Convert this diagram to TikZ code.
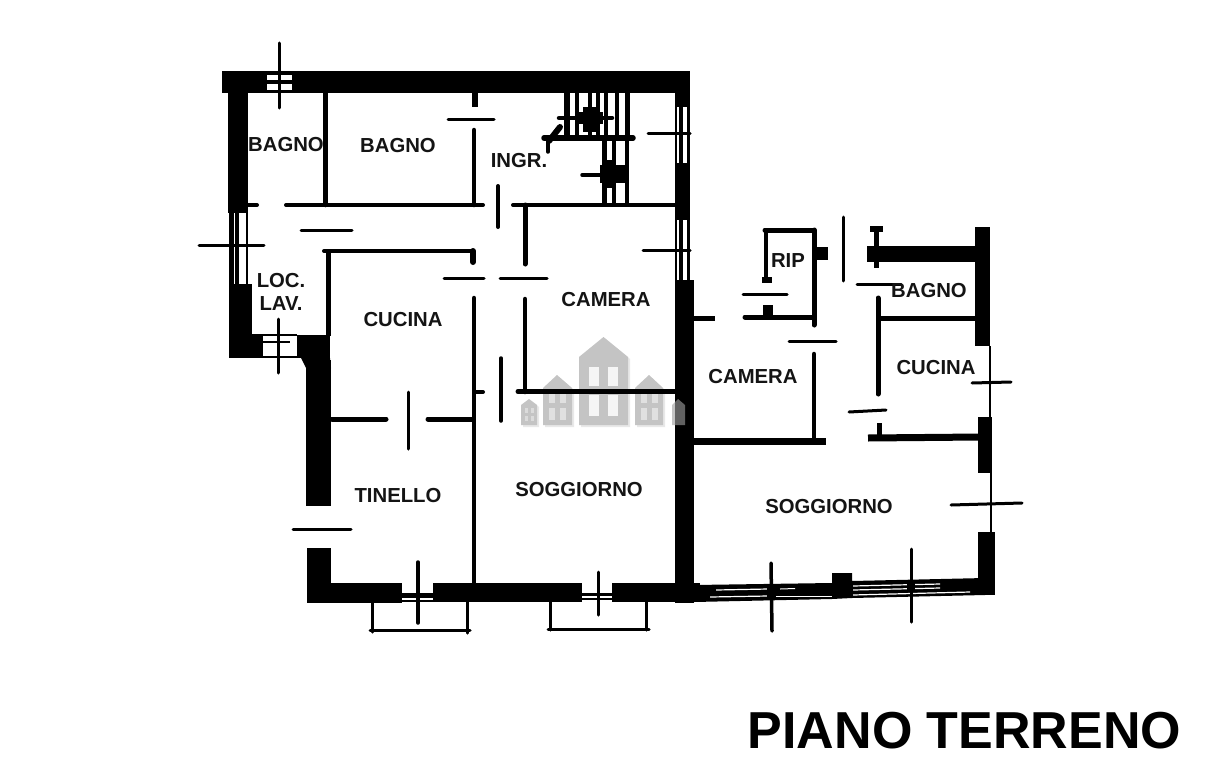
\documentclass[tikz,border=0pt]{standalone}
\usepackage{fontspec}
\setmainfont{Liberation Sans}
\begin{document}
\begin{tikzpicture}[x=1pt,y=-1pt,
  wm/.style={fill=black!23,draw=none},
  wmshadow/.style={fill=black!9,draw=none},
  hole/.style={fill=black!4,draw=none},
  wall/.style={fill=black,draw=none},
  ln/.style={draw=black,line width=#1,line cap=round},
  ln/.default=4,
  flat/.style={draw=black,line width=#1,line cap=butt},
  white line/.style={draw=white,line width=#1},
  lab/.style={font=\fontsize{20.3}{23}\selectfont\bfseries,text=black!92,inner sep=0pt},
  title/.style={font=\fontsize{52}{58}\selectfont\bfseries,text=black,inner sep=0pt}]
\useasboundingbox (0,0) rectangle (1206,768);
\fill[white] (0,0) rectangle (1206,768);

% watermark: houses
\fill[wmshadow] (581,359)--(605.5,339)--(630,359)--(630,427)--(581,427)--cycle;
\fill[wmshadow] (545,390)--(559,377)--(574,390)--(574,427)--(545,427)--cycle;
\fill[wmshadow] (637,390)--(651,377)--(665,390)--(665,427)--(637,427)--cycle;
\fill[wmshadow] (523,407)--(531,401)--(539,407)--(539,427)--(523,427)--cycle;
\fill[wm] (579,357)--(603.5,337)--(628,357)--(628,425)--(579,425)--cycle;
\fill[wm] (543,388)--(557,375)--(572,388)--(572,425)--(543,425)--cycle;
\fill[wm] (635,388)--(649,375)--(663,388)--(663,425)--(635,425)--cycle;
\fill[wm] (521,405)--(529,399)--(537,405)--(537,425)--(521,425)--cycle;
\fill[wm] (672,405)--(678,399)--(685,405)--(685,425)--(672,425)--cycle;
\foreach \wx in {589,608}{
  \fill[hole] (\wx,367) rectangle ++(9.5,19);
  \fill[hole] (\wx,395) rectangle ++(9.5,21);}
\foreach \wx in {549,560,641,652}{
  \fill[black!12] (\wx,393) rectangle ++(6,10);
  \fill[black!12] (\wx,408) rectangle ++(6,12);}
\foreach \wx in {525,531}{
  \fill[black!14] (\wx,408) rectangle ++(3,5);
  \fill[black!14] (\wx,416) rectangle ++(3,5);}

% outer walls, main flat
\fill[wall] (222,71) rectangle (267,93);
\fill[wall] (292,71) rectangle (690,93);
\fill[wall] (267,71) rectangle (292,75);
\fill[wall] (267,80) rectangle (292,84);
\fill[wall] (267,90) rectangle (292,93);
\fill[wall] (228,71) rectangle (248,213);
\fill[wall] (229,284) rectangle (252,358);
\fill[wall] (229,336) rectangle (263,358);
\fill[wall] (297,335) rectangle (330,358);
\fill[wall] (301,358) -- (330,358) -- (331,368) -- (306,368) -- cycle;
\fill[wall] (306,360) rectangle (331,506);
\fill[wall] (307,548) rectangle (331,603);
\fill[wall] (307,583) rectangle (402,603);
\fill[wall] (433,583) rectangle (582,602);
\fill[wall] (612,583) rectangle (700,602);
\fill[wall] (675,92) rectangle (690,107);
\fill[wall] (675,163) rectangle (690,220);
\fill[wall] (675,280) rectangle (694,603);
% side window, west
\foreach \wx/\ww in {231/5,237/4,247/2.5}{
  \draw[flat=\ww] (\wx,213) -- (\wx,285);}
% window, lower left
\draw[flat=2] (252,335) -- (297,335);
\draw[flat=2] (263,342) -- (290,342);
\draw[flat=2] (263,357) -- (297,357);
% window east upper
\foreach \wy/\wh in {107/56,220/60}{
  \draw[flat=4] (681,\wy) -- ++(0,\wh);
  \draw[flat=3] (688,\wy) -- ++(0,\wh);
  \draw[flat=2] (676,\wy) -- ++(0,\wh);}
% bottom windows
\draw[flat=5] (402,595) -- (433,595);
\draw[flat=2] (402,601) -- (433,601);
\draw[flat=3] (582,594) -- (612,594);
\draw[flat=2] (582,599) -- (612,599);

% interior, main flat
\draw[ln=4.5] (325.5,93) -- (325.5,205);
\draw[ln=4] (286,205) -- (483,205);
\draw[ln=4] (248,205) -- (257,205);
\draw[flat=6] (475,93) -- (475,107);
\draw[ln=3] (448,119) -- (494,119);
\draw[ln=4.5] (474,130) -- (474,205);
\draw[ln=4] (498,186) -- (498,227);
\draw[ln=3] (301,230) -- (352,230);
\draw[ln=4] (324,251) -- (473,251);
\draw[flat=5] (328,251) -- (328,336);
\draw[ln=6] (473,251) -- (473,262);
\draw[ln=3] (444,278) -- (484,278);
\draw[ln=3] (500,278) -- (547,278);
\draw[ln=4.5] (474,298) -- (474,583);
\draw[ln=3.5] (501,358) -- (501,421);
\draw[ln=5] (525,205) -- (525,264);
\draw[ln=4] (513,205) -- (675,205);
\draw[ln=4.5] (525,299) -- (525,392);
\draw[ln=5] (518,391.5) -- (675,391.5);
\draw[ln=4] (483,392) -- (475,392);
\draw[ln=3] (643,250) -- (690,250);
\draw[ln=3] (648,133) -- (690,133);
\draw[ln=5] (332,419) -- (386,419);
\draw[ln=5] (428,419) -- (472,419);
\draw[ln=3] (408,392) -- (408,449);
\draw[ln=3] (293,529) -- (351,529);

% stairs
\foreach \sx/\sw in {567/6,577/4,590/4,598/4,606/4,617/4,627/5}{
  \draw[flat=\sw] (\sx,93) -- (\sx,138);}
\draw[ln=5.5] (544,138) -- (633,138);
\draw[ln=6] (549,141) -- (560,127);
\draw[ln=3.5] (548,141) -- (548,152);
\draw[ln=4.5] (559,118) -- (612,118);
\fill[wall] (583,107) rectangle (599,132);
\fill[wall] (576,112) rectangle (603,124);
\foreach \sx/\sw in {604/5,614/4,627/4}{
  \draw[flat=\sw] (\sx,140) -- (\sx,205);}
\fill[wall] (600,165) rectangle (625,183);
\fill[wall] (604,160) rectangle (614,188);
\draw[ln=3.5] (582,175) -- (625,175);

% window marks, main flat
\draw[ln=3] (279,43) -- (279,108);
\draw[ln=3] (199,245) -- (264,245);
\draw[ln=3] (278,319) -- (278,373);
\draw[ln=3.5] (418,562) -- (418,623);
\draw[ln=3] (598,572) -- (598,615);
\draw[ln=3] (372,602) -- (372,632);
\draw[ln=3] (467,602) -- (467,633);
\draw[ln=3] (370,630) -- (470,630);
\draw[ln=3] (550,602) -- (550,630);
\draw[ln=3] (646,602) -- (646,630);
\draw[ln=3] (548,629) -- (649,629);

% second flat
\draw[ln=5] (765,230) -- (814,230);
\draw[ln=3.5] (766,230) -- (766,279);
\fill[wall] (762,277) rectangle (772,283);
\draw[ln=5] (814,230) -- (814,325);
\fill[wall] (812,247) rectangle (828,260);
\draw[ln=3] (743,294) -- (787,294);
\fill[wall] (763,305) rectangle (773,315);
\draw[ln=5] (745,317) -- (814,317);
\draw[flat=5] (692,318) -- (715,318);
\draw[ln=3] (789,341) -- (836,341);
\draw[ln=4.5] (814,354) -- (814,438);
\draw[flat=7] (694,441.5) -- (826,441.5);
\draw[ln=3] (843,217) -- (843,281);
\fill[wall] (867,246) rectangle (977,262);
\fill[wall] (975,227) rectangle (990,346);
\draw[flat=5] (876,228) -- (876,268);
\fill[wall] (870,226) rectangle (883,232);
\draw[ln=3] (857,284) -- (901,284);
\draw[ln=5] (878,298) -- (878,394);
\draw[flat=5] (878,318) -- (977,318);
\draw[ln=3] (849,412) -- (886,410);
\draw[flat=5] (879,423) -- (879,437);
\draw[flat=7] (868,438) -- (980,437);
\fill[wall] (978,417) rectangle (992,473);
\draw[flat=2] (990,346) -- (990,417);
\draw[flat=2.5] (991,473) -- (991,532);
\draw[ln=3] (972,383) -- (1011,382);
\draw[ln=3] (951,505) -- (1022,503);
\fill[wall] (978,532) rectangle (995,595);

% south wall of the second flat with strip window
\fill[wall] (694,585) -- (832,583) -- (832,573) -- (852,573) -- (852,581)
  -- (985,578) -- (985,595) -- (852,598) -- (832,599) -- (694,602) -- cycle;
\draw[white line=1.2] (716,590) -- (768,589);
\draw[white line=1.2] (710,597) -- (768,596);
\draw[white line=1] (780,589) -- (795,588.5);
\draw[white line=1] (775,596) -- (832,596);
\draw[white line=1.2] (853,586) -- (940,584);
\draw[white line=1.2] (853,590) -- (940,588);
\draw[white line=1.2] (853,595) -- (970,592);
\draw[ln=3.5] (771,563) -- (772,631);
\fill[wall] (767,585) rectangle (776,600);
\draw[ln=3] (911,549) -- (911,622);
\fill[wall] (907,581) rectangle (915,590);

% watermark house seen through the wall
\fill[black!62] (675,402) -- (678,399) -- (685,405) -- (685,425) -- (675,425) -- cycle;

% labels
\node[lab] (bagnoa) at (286,145) {BAGNO};
\node[lab] (bagnob) at (398,146) {BAGNO};
\node[lab] (ingr) at (519,161) {INGR.};
\node[lab] (loc) at (281,281) {LOC.};
\node[lab] (lav) at (281,304) {LAV.};
\node[lab] (cucinaa) at (403,320) {CUCINA};
\node[lab] (cameraa) at (606,300) {CAMERA};
\node[lab] (rip) at (788,261) {RIP};
\node[lab] (bagnoc) at (929,291) {BAGNO};
\node[lab] (cucinab) at (936,368) {CUCINA};
\node[lab] (camerab) at (753,377) {CAMERA};
\node[lab] (tinello) at (398,496) {TINELLO};
\node[lab] (soggiornoa) at (579,490) {SOGGIORNO};
\node[lab] (soggiornob) at (829,507) {SOGGIORNO};
\node[title] (piano) at (964.5,731) {PIANO TERRENO};
\end{tikzpicture}
\end{document}
